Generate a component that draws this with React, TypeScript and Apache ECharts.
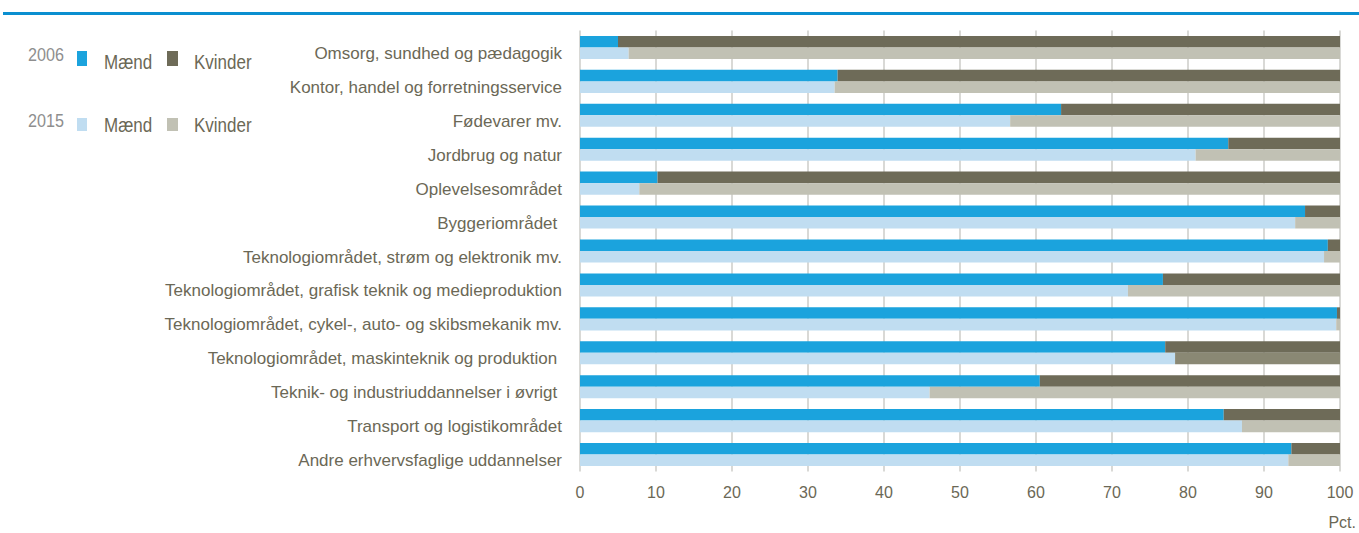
import React, { useEffect, useRef } from "react";
import * as echarts from "echarts";

const categories = [
  "Omsorg, sundhed og pædagogik",
  "Kontor, handel og forretningsservice",
  "Fødevarer mv.",
  "Jordbrug og natur",
  "Oplevelsesområdet",
  "Byggeriområdet ",
  "Teknologiområdet, strøm og elektronik mv.",
  "Teknologiområdet, grafisk teknik og medieproduktion",
  "Teknologiområdet, cykel-, auto- og skibsmekanik mv.",
  "Teknologiområdet, maskinteknik og produktion ",
  "Teknik- og industriuddannelser i øvrigt ",
  "Transport og logistikområdet",
  "Andre erhvervsfaglige uddannelser",
];

const maend2006 = [5.0, 33.9, 63.3, 85.3, 10.2, 95.4, 98.4, 76.7, 99.6, 77.0, 60.5, 84.7, 93.6];
const maend2015 = [6.4, 33.5, 56.6, 81.0, 7.8, 94.1, 97.9, 72.1, 99.5, 78.3, 46.0, 87.1, 93.2];
const kvinder2006 = [95.0, 66.1, 36.7, 14.7, 89.8, 4.6, 1.6, 23.3, 0.4, 23.0, 39.5, 15.3, 6.4];
const kvinder2015 = [93.6, 66.5, 43.4, 19.0, 92.2, 5.9, 2.1, 27.9, 0.5, 21.7, 54.0, 12.9, 6.8];

const xTicks = [0, 10, 20, 30, 40, 50, 60, 70, 80, 90, 100];

const FONT = "'Liberation Sans', Arial, sans-serif";
const TXT = "#6b6856";
const C_BLUE = "#1ba3dd";
const C_DARK = "#6e6b58";
const C_LBLUE = "#c0ddf1";
const C_LGRAY = "#c1c1b4";
const C_MID = "#8a8874";

export default function App() {
  const ref = useRef<HTMLDivElement>(null);
  useEffect(() => {
    document.body.style.margin = "0";
    const chart = echarts.init(ref.current!, undefined, { renderer: "svg" });
    const legendText = (x: number, y: number, t: string, color: string, size: number) => ({
      type: "text",
      x,
      y,
      scaleX: 0.85,
      style: { text: t, fill: color, font: `${size}px ${FONT}`, textVerticalAlign: "middle" },
    });
    chart.setOption({
      animation: false,
      grid: { left: 580, right: 19, top: 30.5, bottom: 61.5, containLabel: false },
      xAxis: {
        type: "value",
        min: 0,
        max: 100,
        interval: 10,
        axisLine: { show: false },
        axisTick: { show: false },
        splitLine: { show: true, lineStyle: { color: "#d9d9d6", width: 2 } },
        axisLabel: {
          color: TXT,
          fontFamily: FONT,
          fontSize: 16,
          margin: 13,
          formatter: (v: number) => (xTicks.includes(v) ? String(v) : ""),
        },
      },
      yAxis: {
        type: "category",
        data: categories,
        inverse: true,
        axisLine: { show: false },
        axisTick: { show: false },
        splitLine: { show: false },
        axisLabel: {
          color: TXT,
          fontFamily: FONT,
          fontSize: 17,
          margin: 18,
          verticalAlign: "top",
          lineHeight: 12,
        },
      },
      series: [
        {
          name: "Mænd 2006",
          type: "bar",
          stack: "2006",
          data: maend2006,
          itemStyle: { color: C_BLUE },
          barGap: "0%",
          barCategoryGap: "32%",
        },
        {
          name: "Kvinder 2006",
          type: "bar",
          stack: "2006",
          data: kvinder2006,
          itemStyle: { color: C_DARK },
        },
        {
          name: "Mænd 2015",
          type: "bar",
          stack: "2015",
          data: maend2015,
          itemStyle: { color: C_LBLUE },
        },
        {
          name: "Kvinder 2015",
          type: "bar",
          stack: "2015",
          data: kvinder2015.map((v, i) =>
            i === 9 ? { value: v, itemStyle: { color: C_MID } } : v
          ),
          itemStyle: { color: C_LGRAY },
        },
      ],
      graphic: [
        { type: "rect", shape: { x: 3, y: 12, width: 1356, height: 3 }, style: { fill: "#0a8fd0" } },
        legendText(28, 55, "2006", "#8e8e8e", 19),
        { type: "rect", shape: { x: 77, y: 51, width: 10, height: 15 }, style: { fill: C_BLUE } },
        legendText(104, 62, "Mænd", TXT, 20),
        { type: "rect", shape: { x: 167, y: 51, width: 11, height: 15 }, style: { fill: C_DARK } },
        legendText(194, 62, "Kvinder", TXT, 20),
        legendText(28, 121, "2015", "#8e8e8e", 19),
        { type: "rect", shape: { x: 77, y: 118, width: 10, height: 13 }, style: { fill: C_LBLUE } },
        legendText(104, 125, "Mænd", TXT, 20),
        { type: "rect", shape: { x: 167, y: 118, width: 11, height: 13 }, style: { fill: C_LGRAY } },
        legendText(194, 125, "Kvinder", TXT, 20),
        {
          type: "text",
          x: 1356,
          y: 522,
          style: {
            text: "Pct.",
            fill: TXT,
            font: `16px ${FONT}`,
            textAlign: "right",
            textVerticalAlign: "middle",
          },
        },
      ],
    });
    return () => chart.dispose();
  }, []);
  return <div ref={ref} style={{ width: 1359, height: 533 }} />;
}
